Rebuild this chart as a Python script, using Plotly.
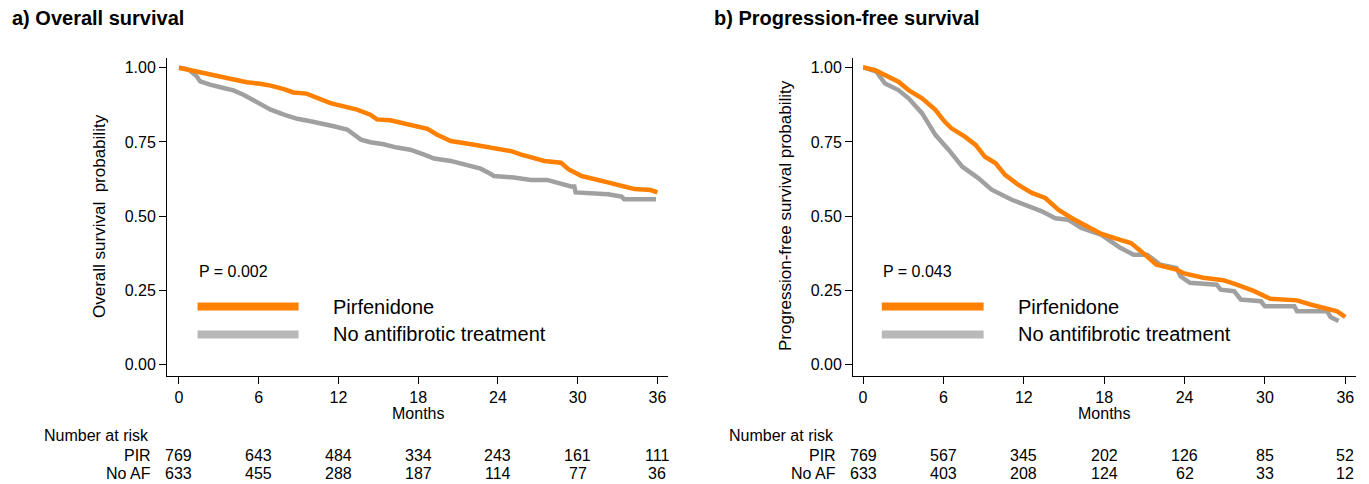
import plotly.graph_objects as go

W, H = 1369, 484

# ---- data ----
months_ticks = [0, 6, 12, 18, 24, 30, 36]
y_ticks = [0.0, 0.25, 0.5, 0.75, 1.0]
y_tick_labels = ["0.00", "0.25", "0.50", "0.75", "1.00"]

os_pir_t = [0, 0.45, 1.08, 1.83, 2.34, 3.1, 4.35, 5.1, 6.1, 6.9, 7.9, 8.6, 9.6, 10.4, 11.4, 12.4, 13.4,
            14.4, 14.9, 15.9, 16.9, 17.9, 18.7, 19.4, 20.2, 20.45, 22.0, 23.5, 25.0, 25.7, 26.7, 27.5,
            28.75, 29.3, 30.3, 31.5, 32.5, 33.5, 34.3, 35.5, 35.9, 36.0]
os_pir_s = [1.0, 0.996, 0.988, 0.984, 0.977, 0.971, 0.96, 0.951, 0.946, 0.94, 0.928, 0.917, 0.913, 0.898,
            0.881, 0.87, 0.859, 0.842, 0.826, 0.823, 0.812, 0.799, 0.794, 0.775, 0.761, 0.753, 0.742,
            0.731, 0.719, 0.708, 0.694, 0.686, 0.68, 0.658, 0.635, 0.624, 0.611, 0.6, 0.591, 0.588,
            0.58, 0.58]

os_noaf_t = [0, 0.4, 0.83, 1.34, 1.6, 2.34, 3.35, 4.1, 4.85, 5.9, 6.9, 7.9, 8.9, 9.9, 10.6, 11.65, 12.65,
             13.0, 13.7, 14.4, 15.4, 16.4, 17.4, 18.4, 19.2, 20.45, 21.5, 22.7, 23.5, 23.7, 25.2, 26.5,
             27.7, 28.5, 29.5, 29.75, 29.85, 32.3, 33.3, 33.5, 35.9]
os_noaf_s = [1.0, 0.998, 0.991, 0.971, 0.954, 0.943, 0.932, 0.924, 0.909, 0.882, 0.859, 0.842, 0.828,
             0.82, 0.814, 0.803, 0.792, 0.781, 0.758, 0.749, 0.742, 0.731, 0.724, 0.708, 0.694, 0.686,
             0.674, 0.66, 0.641, 0.635, 0.63, 0.622, 0.622, 0.611, 0.6, 0.6, 0.58, 0.574, 0.566, 0.557,
             0.557]

pfs_pir_t = [0, 0.15, 0.9, 1.64, 2.64, 3.4, 4.4, 5.4, 6.1, 6.6, 7.6, 8.4, 9.1, 9.9, 10.6, 11.6, 12.6,
             13.6, 14.6, 15.6, 16.8, 17.8, 19.2, 20.0, 20.9, 21.9, 23.4, 23.9, 25.4, 26.9, 27.9, 29.2,
             30.4, 32.4, 33.4, 34.65, 35.4, 36.0]
pfs_pir_s = [1.0, 1.0, 0.992, 0.975, 0.953, 0.925, 0.897, 0.858, 0.818, 0.796, 0.768, 0.74, 0.70, 0.678,
             0.639, 0.605, 0.578, 0.561, 0.521, 0.493, 0.465, 0.44, 0.42, 0.409, 0.376, 0.336, 0.32,
             0.308, 0.292, 0.284, 0.269, 0.247, 0.221, 0.216, 0.202, 0.187, 0.179, 0.16]

pfs_noaf_t = [0, 0.15, 1.0, 1.64, 2.64, 3.4, 4.4, 5.4, 6.4, 7.4, 8.6, 9.6, 11.1, 12.35, 13.35, 14.35,
              15.3, 16.3, 17.8, 19.2, 20.2, 21.2, 22.2, 23.4, 23.7, 24.4, 26.4, 26.7, 27.7, 28.2, 29.7,
              30.0, 32.2, 32.4, 34.65, 34.9, 35.5]
pfs_noaf_s = [1.0, 1.0, 0.987, 0.947, 0.925, 0.897, 0.847, 0.774, 0.723, 0.667, 0.628, 0.589, 0.555,
              0.532, 0.516, 0.493, 0.488, 0.46, 0.437, 0.393, 0.37, 0.37, 0.336, 0.325, 0.297, 0.275,
              0.269, 0.252, 0.247, 0.219, 0.213, 0.196, 0.196, 0.179, 0.179, 0.16, 0.146]

risk_os_pir = [769, 643, 484, 334, 243, 161, 111]
risk_os_noaf = [633, 455, 288, 187, 114, 77, 36]
risk_pfs_pir = [769, 567, 345, 202, 126, 85, 52]
risk_pfs_noaf = [633, 403, 208, 124, 62, 33, 12]

p_values = ["P = 0.002", "P = 0.043"]
panel_titles = ["a) Overall survival", "b) Progression-free survival"]
y_titles = ["Overall survival  probability", "Progression-free survival probability"]
group_names = ["Pirfenidone", "No antifibrotic treatment"]
row_names = ["PIR", "No AF"]

# ---- styling ----
ORANGE = "#FF8000"
GRAY = "#A0A0A0"
GRAY_LEG = "#B8B8B8"
FONT = "Liberation Sans, Arial, sans-serif"
FS = 16


def py2paper(py):
    return (H - py) / H


fig = go.Figure()

panels = [
    dict(xa="x", ya="y", data=[(os_noaf_t, os_noaf_s, GRAY), (os_pir_t, os_pir_s, ORANGE)],
         risk=[risk_os_pir, risk_os_noaf]),
    dict(xa="x2", ya="y2", data=[(pfs_noaf_t, pfs_noaf_s, GRAY), (pfs_pir_t, pfs_pir_s, ORANGE)],
         risk=[risk_pfs_pir, risk_pfs_noaf]),
]

for p in panels:
    for t, s, c in p["data"]:
        fig.add_trace(go.Scatter(x=t, y=s, mode="lines", line=dict(color=c, width=4.5, shape="linear"),
                                 xaxis=p["xa"], yaxis=p["ya"], showlegend=False, hoverinfo="skip"))

ydom = [py2paper(376), py2paper(58)]
axis_common = dict(showgrid=False, zeroline=False, showline=True, linecolor="black", linewidth=1,
                   ticks="outside", ticklen=7, tickwidth=1, tickcolor="black",
                   tickfont=dict(family=FONT, size=FS, color="black"))

fig.update_layout(
    width=W, height=H, margin=dict(l=0, r=0, t=0, b=0),
    paper_bgcolor="white", plot_bgcolor="white",
    xaxis=dict(domain=[167 / W, 668 / W], range=[-0.9, 36.8], tickvals=months_ticks, anchor="y",
               **axis_common),
    yaxis=dict(domain=ydom, range=[-0.039, 1.033], tickvals=y_ticks, ticktext=y_tick_labels,
               anchor="x", **axis_common),
    xaxis2=dict(domain=[853 / W, 1356 / W], range=[-0.75, 36.8], tickvals=months_ticks, anchor="y2",
                **axis_common),
    yaxis2=dict(domain=ydom, range=[-0.039, 1.033], tickvals=y_ticks, ticktext=y_tick_labels,
                anchor="x2", **axis_common),
)

ann = []
shapes = []
panel_px = [dict(title_x=10, ytitle_x=100, row_x=153, nar_x=42),
            dict(title_x=712, ytitle_x=786, row_x=838, nar_x=727)]
for i, p in enumerate(panels):
    pp = panel_px[i]
    xr = p["xa"]
    yr = p["ya"]
    ann.append(dict(text="<b>" + panel_titles[i] + "</b>", xref="paper", yref="paper",
                    x=pp["title_x"] / W, y=py2paper(18), xanchor="left", yanchor="middle",
                    showarrow=False, font=dict(family=FONT, size=20, color="black")))
    ann.append(dict(text=y_titles[i], xref="paper", yref="paper", x=pp["ytitle_x"] / W,
                    y=py2paper(216), textangle=-90, xanchor="center", yanchor="middle",
                    showarrow=False, font=dict(family=FONT, size=17, color="black")))
    ann.append(dict(text="Months", xref=xr, yref="paper", x=18, y=py2paper(413), xanchor="center",
                    yanchor="middle", showarrow=False, font=dict(family=FONT, size=FS, color="black")))
    ann.append(dict(text=p_values[i], xref=xr, yref=yr, x=1.35, y=0.312, xanchor="left",
                    yanchor="middle", showarrow=False, font=dict(family=FONT, size=FS, color="black")))
    for nm, col, yy in [(group_names[0], ORANGE, 0.195), (group_names[1], GRAY_LEG, 0.101)]:
        shapes.append(dict(type="line", xref=xr, yref=yr, x0=1.4, x1=9.0, y0=yy, y1=yy,
                           line=dict(color=col, width=8)))
        ann.append(dict(text=nm, xref=xr, yref=yr, x=11.45, y=yy, xanchor="left", yanchor="middle",
                        showarrow=False, font=dict(family=FONT, size=20, color="black")))
    ann.append(dict(text="Number at risk", xref="paper", yref="paper", x=pp["nar_x"] / W,
                    y=py2paper(435), xanchor="left", yanchor="middle", showarrow=False,
                    font=dict(family=FONT, size=FS, color="black")))
    for rn, vals, ypx in [(row_names[0], p["risk"][0], 455), (row_names[1], p["risk"][1], 473)]:
        ann.append(dict(text=rn, xref="paper", yref="paper", x=pp["row_x"] / W, y=py2paper(ypx),
                        xanchor="right", yanchor="middle", showarrow=False,
                        font=dict(family=FONT, size=FS, color="black")))
        for m, v in zip(months_ticks, vals):
            ann.append(dict(text=str(v), xref=xr, yref="paper", x=m, y=py2paper(ypx),
                            xanchor="center", yanchor="middle", showarrow=False,
                            font=dict(family=FONT, size=FS, color="black")))

fig.update_layout(annotations=ann, shapes=shapes)
fig.write_html("out.html", config={"displayModeBar": False},
               post_script="document.body.style.margin='0';document.body.style.overflow='hidden';")
